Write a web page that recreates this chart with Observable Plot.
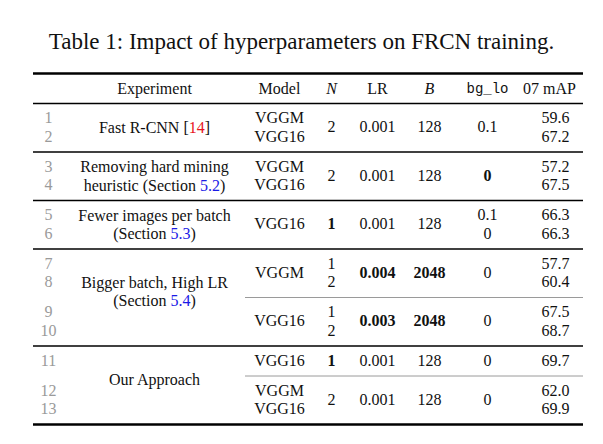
<!DOCTYPE html>
<html><head><meta charset="utf-8">
<script src="https://cdn.jsdelivr.net/npm/d3@7"></script>
<script src="https://cdn.jsdelivr.net/npm/@observablehq/plot@0.6"></script>
<style>
body{margin:0;background:#fff;}
#title{font-family:"Liberation Serif","Times New Roman",serif;font-size:23px;color:#111;text-align:center;width:603px;height:60px;line-height:30px;padding-top:27px;box-sizing:border-box;}
</style></head><body>
<div id="title"></div>
<div id="chart"></div>
<script>
// ---------- data ----------
const tableTitle = "Table 1: Impact of hyperparameters on FRCN training.";
const headers = ["", "Experiment", "Model", "N", "LR", "B", "bg_lo", "07 mAP"];
const experiments = [
  "Fast R-CNN [14]",
  "Removing hard mining\nheuristic (Section 5.2)",
  "Fewer images per batch\n(Section 5.3)",
  "Bigger batch, High LR\n(Section 5.4)",
  "Our Approach"
];
const rowIds = [1, 2, 3, 4, 5, 6, 7, 8, 9, 10, 11, 12, 13];
const rowBlock = [0, 0, 1, 1, 2, 2, 3, 3, 4, 4, 5, 6, 6];
const blockExperiment = [0, 1, 2, 3, 3, 4, 4];
const models = ["VGGM", "VGG16", "VGGM", "VGG16", "VGG16", "VGG16", "VGGM", "VGGM", "VGG16", "VGG16", "VGG16", "VGGM", "VGG16"];
const nValues = ["2", "2", "2", "2", "1", "1", "1", "2", "1", "2", "1", "2", "2"];
const lrValues = ["0.001", "0.001", "0.001", "0.001", "0.001", "0.001", "0.004", "0.004", "0.003", "0.003", "0.001", "0.001", "0.001"];
const bValues = ["128", "128", "128", "128", "128", "128", "2048", "2048", "2048", "2048", "128", "128", "128"];
const bgLoValues = ["0.1", "0.1", "0", "0", "0.1", "0", "0", "0", "0", "0", "0", "0", "0"];
const map07 = [59.6, 67.2, 57.2, 67.5, 66.3, 66.3, 57.7, 60.4, 67.5, 68.7, 69.7, 62.0, 69.9];
const boldN = [5, 6, 11];
const boldLR = [7, 8, 9, 10];
const boldB = [7, 8, 9, 10];
const boldBgLo = [3, 4];

// ---------- layout ----------
const colWidths = [30, 182, 68, 36, 56, 48, 68, 62];
const rowStep = 18.5, gapAfterRule = 14.5, gapBeforeRule = 15.5, headerGap = 15;
const FONT = "Liberation Serif, Times New Roman, serif";

document.getElementById("title").textContent = tableTitle;

const colStart = [], colCenter = [];
let acc = 0;
colWidths.forEach((w, i) => { colStart[i] = acc; colCenter[i] = acc + w / 2; acc += w; });
const tableW = acc;

let y = 0;
const rules = [{y: 0, kind: "top"}];
y += headerGap; const headerY = y;
y += headerGap; rules.push({y, kind: "header"});
const rowY = [];
for (let i = 0; i < rowIds.length; i++) {
  y += (i === 0 || rowBlock[i] !== rowBlock[i - 1]) ? gapAfterRule : rowStep;
  rowY[i] = y;
  if (i === rowIds.length - 1 || rowBlock[i + 1] !== rowBlock[i]) {
    y += gapBeforeRule;
    let kind = "bottom";
    if (i < rowIds.length - 1) kind = blockExperiment[rowBlock[i + 1]] !== blockExperiment[rowBlock[i]] ? "group" : "block";
    rules.push({y, kind});
  }
}
const totalH = y;

// cells
const cells = [];
const mergeCols = [
  {col: 2, vals: models, bold: []},
  {col: 3, vals: nValues, bold: boldN},
  {col: 4, vals: lrValues, bold: boldLR},
  {col: 5, vals: bValues, bold: boldB},
  {col: 6, vals: bgLoValues, bold: boldBgLo}
];
const nBlocks = blockExperiment.length;
for (let b = 0; b < nBlocks; b++) {
  const idx = rowIds.map((_, i) => i).filter(i => rowBlock[i] === b);
  for (const mc of mergeCols) {
    const vs = idx.map(i => mc.vals[i]);
    if (vs.every(v => v === vs[0])) {
      cells.push({x: colCenter[mc.col], y: d3.mean(idx, i => rowY[i]), text: vs[0], bold: mc.bold.includes(rowIds[idx[0]])});
    } else {
      idx.forEach(i => cells.push({x: colCenter[mc.col], y: rowY[i], text: mc.vals[i], bold: mc.bold.includes(rowIds[i])}));
    }
  }
}
const mapCells = rowIds.map((id, i) => ({x: colCenter[7], y: rowY[i], text: map07[i].toFixed(1)}));
const idCells = rowIds.map((id, i) => ({x: colCenter[0], y: rowY[i], text: String(id)}));
const expCells = experiments.map((e, g) => {
  const idx = rowIds.map((_, i) => i).filter(i => blockExperiment[rowBlock[i]] === g);
  return {x: colCenter[1], y: rowY[idx[0]] + (idx.length - 1) / 2 * rowStep, text: e};
});
const headerCells = headers.map((h, i) => ({x: colCenter[i], y: headerY, text: h, i}));

const textBase = {x: "x", y: "y", text: "text", fontFamily: FONT, fontSize: 16, fill: "#111"};

const chart = Plot.plot({
  width: 603, height: 384, margin: 0,
  x: {domain: [0, tableW], range: [33, 583], axis: null},
  y: {domain: [0, totalH], range: [13, 13 + totalH], axis: null},
  marks: [
    Plot.ruleY(rules.filter(r => r.kind === "top" || r.kind === "bottom"), {y: "y", x1: 0, x2: tableW, stroke: "#000", strokeWidth: 2.3}),
    Plot.ruleY(rules.filter(r => r.kind === "header" || r.kind === "group"), {y: "y", x1: 0, x2: tableW, stroke: "#000", strokeWidth: 1.3}),
    Plot.ruleY(rules.filter(r => r.kind === "block"), {y: "y", x1: colStart[2], x2: tableW, stroke: "#9a9a9a", strokeWidth: 1}),
    Plot.text(headerCells.filter(d => [1, 2, 4].includes(d.i)), textBase),
    Plot.text(headerCells.filter(d => d.i === 7), {...textBase, dx: -3}),
    Plot.text(headerCells.filter(d => d.i === 3 || d.i === 5), {...textBase, fontStyle: "italic"}),
    Plot.text(headerCells.filter(d => d.i === 6), {...textBase, fontFamily: "Liberation Mono, DejaVu Sans Mono, monospace", fontSize: 14}),
    Plot.text(idCells, {...textBase, fill: "#9a9a9a"}),
    Plot.text(expCells, {...textBase, lineHeight: rowStep / 16}),
    Plot.text(cells.filter(d => !d.bold), textBase),
    Plot.text(cells.filter(d => d.bold), {...textBase, fontWeight: "bold"}),
    Plot.text(mapCells, {...textBase, dx: 3})
  ]
});
document.getElementById("chart").appendChild(chart);

// colour citation and section references
const NS = "http://www.w3.org/2000/svg";
const refPattern = /(\[\d+\]|Section \d+\.\d+)/;
chart.querySelectorAll("text").forEach(t => {
  if (!refPattern.test(t.textContent)) return;
  const tsp = t.querySelectorAll("tspan");
  const targets = tsp.length ? Array.from(tsp) : [t];
  targets.forEach(el => {
    const s = el.textContent;
    const parts = s.split(refPattern);
    if (parts.length === 1) return;
    el.textContent = "";
    parts.forEach(p => {
      if (!p) return;
      let m;
      if ((m = p.match(/^\[(\d+)\]$/))) {
        el.appendChild(document.createTextNode("["));
        const r = document.createElementNS(NS, "tspan"); r.setAttribute("fill", "#e8141c"); r.textContent = m[1]; el.appendChild(r);
        el.appendChild(document.createTextNode("]"));
      } else if ((m = p.match(/^Section (\d+\.\d+)$/))) {
        el.appendChild(document.createTextNode("Section "));
        const r = document.createElementNS(NS, "tspan"); r.setAttribute("fill", "#1a1ae6"); r.textContent = m[1]; el.appendChild(r);
      } else {
        el.appendChild(document.createTextNode(p));
      }
    });
  });
});
</script>
</body></html>
